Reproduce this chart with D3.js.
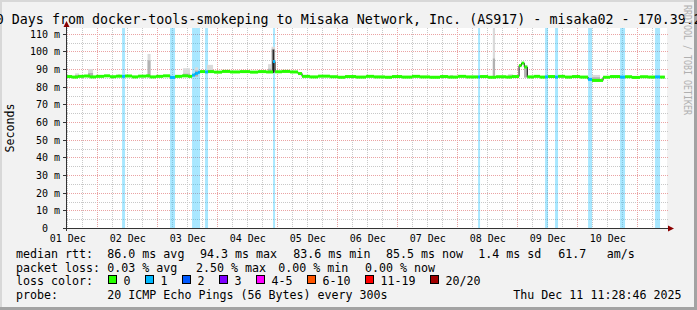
<!DOCTYPE html>
<html><head><meta charset="utf-8">
<script src="https://cdn.jsdelivr.net/npm/d3@7"></script>
<style>
html,body{margin:0;padding:0;background:#f2f2f2;}
svg{display:block;}
text{font-family:"DejaVu Sans Mono",monospace;fill:#000;}
</style>
</head><body>
<svg id="chart" width="697" height="310"></svg>
<script>
// ---------------- data ----------------
const titleText = "10 Days from docker-tools-smokeping to Misaka Network, Inc. (AS917) - misaka02 - 170.39.2";
const startTime = Date.UTC(2025, 11, 1, 11, 28, 46);
const endTime   = Date.UTC(2025, 11, 11, 11, 28, 46);
// hours since 2025-12-01 00:00 UTC where each median step starts
const medianHours = [11.5, 13.9, 16.3, 18.7, 21.1, 23.5, 26.7, 29.1, 31.5, 33.9,
  35.1, 37.9, 40.3, 43.5, 45.1, 47.5, 50.3, 53.1, 55.1, 57.9,
  60.3, 61.9, 63.1, 64.3, 65.1, 67.1, 68.3, 70.7, 73.9, 77.1,
  81.1, 85.1, 88.3, 91.5, 94.3, 95.1, 97.9, 101.1, 104.3, 105.9,
  109.1, 112.3, 117.1, 120.3, 123.1, 127.5, 131.5, 134.7, 139.1, 141.9,
  145.9, 149.9, 153.1, 157.1, 161.1, 164.3, 168.3, 171.5, 176.3, 177.1,
  180.3, 183.5, 187.5, 189.9, 192.7, 193.7, 194.8, 196.0, 198.7, 201.1,
  203.1, 204.3, 207.1, 208.3, 211.1, 213.9, 217.1, 220.3, 221.9, 226.3,
  229.1, 233.1, 235.1, 237.9, 241.1, 244.3, 247.1, 249.1];
const medianEndHour = 251.0;
// median rtt (ms)
const medianValues = [85.8, 85.5, 85.9, 86.1, 85.6, 85.9, 86.2, 85.7, 86.0, 85.9,
  86.1, 85.6, 86.0, 86.2, 85.6, 85.9, 86.2, 85.3, 85.9, 86.2,
  85.9, 86.6, 87.6, 88.2, 88.6, 88.4, 88.6, 88.3, 88.7, 88.4,
  88.6, 88.3, 88.6, 88.4, 94.3, 88.5, 88.7, 88.4, 87.5, 85.9,
  85.6, 86.0, 85.7, 85.4, 85.8, 85.5, 85.9, 85.6, 85.4, 85.8,
  85.5, 85.9, 85.6, 85.4, 85.8, 85.5, 85.9, 85.6, 85.6, 85.8,
  85.4, 85.7, 85.5, 85.8, 92.0, 93.4, 91.2, 85.6, 85.9, 85.5,
  85.6, 85.8, 85.5, 85.9, 85.5, 85.8, 85.5, 84.2, 83.6, 85.4,
  85.8, 85.5, 85.7, 85.3, 85.7, 85.5, 85.6, 85.5];
// lost pings (of 20) in each step
const medianLoss = [0, 0, 0, 0, 0, 0, 0, 0, 0, 1,
  0, 0, 0, 0, 0, 0, 0, 1, 0, 0,
  0, 1, 1, 1, 0, 1, 0, 0, 0, 0,
  0, 0, 0, 0, 1, 0, 0, 0, 0, 0,
  0, 0, 0, 0, 0, 0, 0, 0, 0, 0,
  0, 0, 0, 0, 0, 0, 0, 0, 1, 0,
  0, 0, 0, 0, 0, 0, 0, 0, 0, 0,
  1, 0, 1, 0, 0, 0, 0, 1, 0, 0,
  0, 1, 0, 0, 0, 0, 1, 0];
// smoke (ping spread) spots
const smokeStart = [15.1, 20.3, 32.3, 44.1, 58.3, 63.1, 67.9, 92.3, 93.7, 165.1, 182.2, 188.3, 194.7, 221.9];
const smokeEnd   = [16.7, 22.3, 33.1, 45.3, 61.1, 64.3, 70.3, 93.7, 95.1, 166.3, 183.1, 190.3, 196.1, 225.1];
const smokeMin   = [85.3, 85.2, 85.5, 85.2, 85.5, 85.8, 87.8, 87.9, 87.8, 85.2, 85.2, 85.1, 85.2, 83.0];
const smokeInner = [86.6, 87.8, 86.4, 95.0, 87.4, 89.2, 89.6, 90.2, 101.5, 86.2, 96.0, 86.4, 91.2, 85.4];
const smokeMax   = [87.6, 90.0, 87.1, 98.6, 90.5, 91.0, 92.4, 92.8, 102.7, 86.7, 118.0, 87.1, 92.4, 86.7];
const smokeCore  = [null, null, null, null, null, null, null, null, 101.0, null, null, null, null, null];

const yTicks = [0, 10, 20, 30, 40, 50, 60, 70, 80, 90, 100, 110];
const yTickLabels = ["0", "10 m", "20 m", "30 m", "40 m", "50 m", "60 m", "70 m", "80 m", "90 m", "100 m", "110 m"];
const dayLabels = ["01 Dec", "02 Dec", "03 Dec", "04 Dec", "05 Dec", "06 Dec", "07 Dec", "08 Dec", "09 Dec", "10 Dec"];

const lossLabels = ["0", "1", "2", "3", "4-5", "6-10", "11-19", "20/20"];
const lossColors = ["#26ff00", "#00b8ff", "#0059ff", "#7e00ff", "#ff00ff", "#ff5500", "#ff0000", "#a10000"];

const rttStats = ["86.0 ms avg", "94.3 ms max", "83.6 ms min", "85.5 ms now", "1.4 ms sd", "61.7", "am/s"];
const lossStats = ["0.03 % avg", "2.50 % max", "0.00 % min", "0.00 % now"];
const probeText = "20 ICMP Echo Pings (56 Bytes) every 300s";
const stampText = "Thu Dec 11 11:28:46 2025";

// ---------------- drawing ----------------
const svg = d3.select("#chart");
const X0 = 66, X1 = 666, Y0 = 228, Y1 = 28;
const hourDate = h => new Date(Date.UTC(2025, 11, 1) + h * 3600e3);
const x = d3.scaleUtc().domain([new Date(startTime), new Date(endTime)]).range([X0, X1]);
const y = d3.scaleLinear().domain([0, 113.3]).range([Y0, Y1]);

// background & shading
svg.append("rect").attr("width", 697).attr("height", 310).attr("fill", "#f2f2f2");
svg.append("rect").attr("x", 0).attr("y", 0).attr("width", 697).attr("height", 2).attr("fill", "#d8d8d8");
svg.append("rect").attr("x", 0).attr("y", 0).attr("width", 2).attr("height", 310).attr("fill", "#d8d8d8");
svg.append("rect").attr("x", 694).attr("y", 0).attr("width", 3).attr("height", 310).attr("fill", "#a3a3a3");
svg.append("rect").attr("x", 0).attr("y", 307).attr("width", 697).attr("height", 3).attr("fill", "#a3a3a3");

// canvas
svg.append("rect").attr("x", X0 + 1).attr("y", Y1).attr("width", X1 - X0).attr("height", Y0 - Y1).attr("fill", "#ffffff");

// grid
const grid = svg.append("g").attr("shape-rendering", "crispEdges");
const minorC = "#c8c8c8", majorC = "#eaa3a3";
d3.range(5, 115, 5).filter(v => v % 10 !== 0).forEach(v => {
  const yy = Math.round(y(v)) + 0.5;
  grid.append("line").attr("x1", X0 + 1).attr("x2", X1 + 3).attr("y1", yy).attr("y2", yy)
    .attr("stroke", minorC).attr("stroke-dasharray", "1,1");
});
const sixH = d3.utcHour.every(6).range(new Date(startTime), new Date(endTime)).filter(d => d.getUTCHours() !== 0);
sixH.forEach(d => {
  const xx = Math.floor(x(d)) + 0.5;
  grid.append("line").attr("x1", xx).attr("x2", xx).attr("y1", Y1).attr("y2", Y0 + 2)
    .attr("stroke", minorC).attr("stroke-dasharray", "1,1");
});
yTicks.filter(v => v > 0).forEach(v => {
  const yy = Math.round(y(v)) + 0.5;
  grid.append("line").attr("x1", X0 + 1).attr("x2", X1 + 3).attr("y1", yy).attr("y2", yy)
    .attr("stroke", majorC).attr("stroke-dasharray", "1,1");
});
d3.utcDay.range(new Date(startTime), new Date(endTime)).forEach(d => {
  const xx = Math.floor(x(d)) + 0.5;
  grid.append("line").attr("x1", xx).attr("x2", xx).attr("y1", Y1).attr("y2", Y0 + 2)
    .attr("stroke", majorC).attr("stroke-dasharray", "1,1");
});

// loss background bands
const segs = medianHours.map((h, i) => ({
  t0: hourDate(h),
  t1: hourDate(i + 1 < medianHours.length ? medianHours[i + 1] : medianEndHour),
  v: medianValues[i], loss: medianLoss[i]
}));
const lossIdx = n => n <= 0 ? 0 : n === 1 ? 1 : n === 2 ? 2 : n === 3 ? 3 : n <= 5 ? 4 : n <= 10 ? 5 : n < 20 ? 6 : 7;
const bands = svg.append("g");
segs.filter(s => s.loss > 0).forEach(s => {
  bands.append("rect").attr("x", x(s.t0)).attr("width", x(s.t1) - x(s.t0))
    .attr("y", Y1).attr("height", Y0 - Y1)
    .attr("fill", lossColors[lossIdx(s.loss)]).attr("fill-opacity", 0.34);
});

// smoke
const smoke = svg.append("g");
smokeStart.forEach((s, i) => {
  const xa = x(hourDate(s)), xb = x(hourDate(smokeEnd[i]));
  smoke.append("rect").attr("x", xa).attr("width", xb - xa)
    .attr("y", Math.max(Y1, y(smokeMax[i]))).attr("height", y(smokeMin[i]) - Math.max(Y1, y(smokeMax[i])))
    .attr("fill", "#dadada");
  smoke.append("rect").attr("x", xa).attr("width", xb - xa)
    .attr("y", y(smokeInner[i])).attr("height", y(smokeMin[i]) - y(smokeInner[i]))
    .attr("fill", "#b2b2b2");
  if (smokeCore[i] != null) {
    smoke.append("rect").attr("x", xa + (xb - xa) * 0.3).attr("width", (xb - xa) * 0.45)
      .attr("y", y(smokeCore[i])).attr("height", y(smokeMin[i]) - y(smokeCore[i]))
      .attr("fill", "#2a2a2a");
  }
});

// median: dark step line + loss-coloured thick segments
const stepPts = segs.map(s => [s.t0, s.v]).concat([[segs[segs.length - 1].t1, segs[segs.length - 1].v]]);
svg.append("path")
  .attr("d", d3.line().x(d => x(d[0])).y(d => y(d[1])).curve(d3.curveStepAfter)(stepPts))
  .attr("fill", "none").attr("stroke", "#111").attr("stroke-width", 1);
const med = svg.append("g");
segs.forEach(s => {
  med.append("line").attr("x1", x(s.t0)).attr("x2", x(s.t1)).attr("y1", y(s.v)).attr("y2", y(s.v))
    .attr("stroke", lossColors[lossIdx(s.loss)]).attr("stroke-width", 3);
});

// axes
const ax = svg.append("g").attr("shape-rendering", "crispEdges");
ax.append("line").attr("x1", X0 + 0.5).attr("x2", X0 + 0.5).attr("y1", Y0 + 3).attr("y2", Y1 - 3).attr("stroke", "#333");
ax.append("line").attr("x1", X0 - 2).attr("x2", X1 + 4).attr("y1", Y0 + 0.5).attr("y2", Y0 + 0.5).attr("stroke", "#333");
svg.append("path").attr("d", `M${X0 + 0.5},${Y1 - 7} L${X0 - 2.5},${Y1 - 1} L${X0 + 3.5},${Y1 - 1} Z`).attr("fill", "#8b0000");
svg.append("path").attr("d", `M${X1 + 8},${Y0 + 0.5} L${X1 + 2},${Y0 - 2.5} L${X1 + 2},${Y0 + 3.5} Z`).attr("fill", "#8b0000");

// y labels
const yl = svg.append("g").style("font-size", "10px");
yTicks.forEach((v, i) => {
  const yy = Math.round(y(v)) + 0.5;
  ax.append("line").attr("x1", X0 - 3).attr("x2", X0).attr("y1", yy).attr("y2", yy).attr("stroke", "#333");
  const lab = yTickLabels[i];
  yl.append("text").attr("x", lab.endsWith("m") ? 60 : 60 - 2 * 6.02).attr("y", yy + 3.5)
    .attr("text-anchor", "end").text(lab);
});

// x labels (centred at noon)
const noon = d3.utcDay.range(hourDate(0), hourDate(240)).map(d => d3.utcHour.offset(d, 12));
const xAxis = d3.axisBottom(x).tickValues(noon).tickSize(0).tickFormat((d, i) => dayLabels[i]);
const xg = svg.append("g").attr("transform", `translate(0,${Y0 + 4})`).call(xAxis);
xg.select(".domain").remove();
xg.selectAll("text").attr("font-family", "DejaVu Sans Mono").attr("font-size", "10px").attr("fill", "#000").attr("dy", "0.71em");

// y title
svg.append("text").attr("transform", "translate(14,128) rotate(-90)").attr("text-anchor", "middle")
  .style("font-size", "11.65px").text("Seconds");

// title
svg.append("text").attr("x", -12.3).attr("y", 24).style("font-size", "13.33px").text(titleText);

// watermark
svg.append("text").attr("transform", "translate(684,5) rotate(90)")
  .attr("textLength", 110).attr("lengthAdjust", "spacingAndGlyphs")
  .style("font-size", "10px").style("fill", "#b0b0b0").text("RRDTOOL / TOBI OETIKER");

// legend
const lg = svg.append("g").style("font-size", "11.65px");
const r1 = 258, r2 = 271.5, r3 = 285, r4 = 298.5;
lg.append("text").attr("x", 16).attr("y", r1).text("median rtt:");
[107.3, 200, 293.3, 386, 478.3, 558.3, 606.7].forEach((xx, i) => lg.append("text").attr("x", xx).attr("y", r1).text(rttStats[i]));
lg.append("text").attr("x", 16).attr("y", r2).text("packet loss:");
[107.3, 196, 278.3, 365].forEach((xx, i) => lg.append("text").attr("x", xx).attr("y", r2).text(lossStats[i]));
lg.append("text").attr("x", 16).attr("y", r3).text("loss color:");
const boxX = [108.5, 145.5, 182.5, 219.5, 256.5, 307.5, 365.5, 430.5];
lossLabels.forEach((l, i) => {
  lg.append("rect").attr("x", boxX[i]).attr("y", 275.5).attr("width", 8).attr("height", 8)
    .attr("fill", lossColors[i]).attr("stroke", "#000").attr("stroke-width", 1);
  lg.append("text").attr("x", boxX[i] + 15).attr("y", r3).text(l);
});
lg.append("text").attr("x", 16).attr("y", r4).text("probe:");
lg.append("text").attr("x", 107.3).attr("y", r4).text(probeText);
lg.append("text").attr("x", 513.3).attr("y", r4).text(stampText);
</script>
</body></html>
